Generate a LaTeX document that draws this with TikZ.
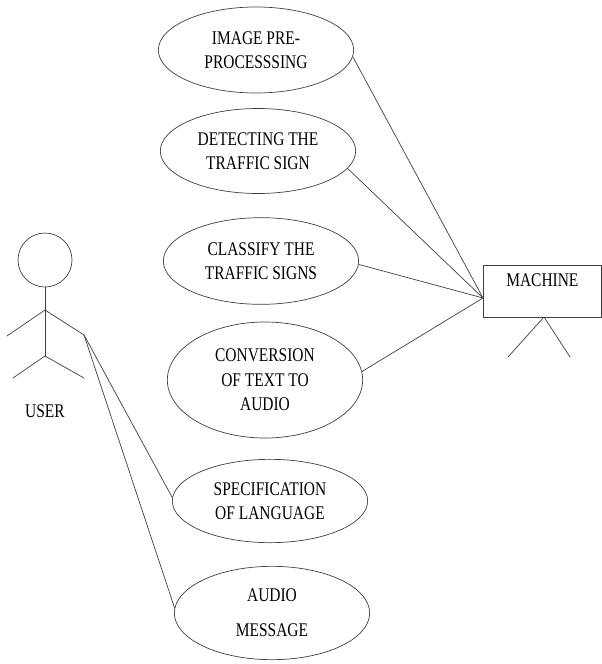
\documentclass[tikz,border=0pt]{standalone}
\usepackage{fontspec}
\setmainfont{Liberation Serif}[FakeStretch=0.8]
\usetikzlibrary{shapes.geometric}

\begin{document}
\begin{tikzpicture}[x=0.3mm,y=-0.3mm,font=\fontsize{16.5}{21}\selectfont]

%
% Styles
%
\tikzstyle{usecase} = [ellipse,draw=black!75,line width=0.6pt,align=center,inner sep=0pt,minimum width=58.6mm]
\tikzstyle{link}    = [draw=black!75,line width=0.6pt]
\tikzstyle{actor}   = [draw=black!75,line width=0.6pt,line cap=round]
\tikzstyle{machbox} = [rectangle,draw=black!75,line width=0.6pt,anchor=north west,
                       minimum width=35.4mm,text height=4mm,text depth=7mm,inner ysep=2.3mm]

\useasboundingbox (0,0) rectangle (602,664);

% use cases
\node[usecase,minimum height=25.8mm] (pre)   at (256, 50) {IMAGE PRE-\\PROCESSSING};
\node[usecase,minimum height=25.5mm] (det)   at (258,151) {DETECTING THE\\TRAFFIC SIGN};
\node[usecase,minimum height=26mm]   (cls)   at (261,261) {CLASSIFY THE\\TRAFFIC SIGNS};
\node[usecase,minimum height=34.8mm] (conv)  at (265,380) {CONVERSION\\OF TEXT TO\\AUDIO};
\node[usecase,minimum height=25mm]   (lang)  at (270,501) {SPECIFICATION\\OF LANGUAGE};
\node[usecase,minimum height=28mm]   (audio) at (272,613) {AUDIO\\[9pt]MESSAGE};

% machine
\node[machbox] (mach) at (483,265) {MACHINE};
\coordinate (mpt) at (483,298);
\coordinate (mleg) at (544,317);
\draw[actor] (mleg) -- (508,357);
\draw[actor] (mleg) -- (570,357);

% user
\node[circle,draw=black!75,line width=0.6pt,minimum size=16.2mm,inner sep=0pt] (head) at (45,260) {};
\coordinate (shoulder) at (45,310);
\coordinate (hip) at (45,356);
\coordinate (hand) at (84,335);
\draw[actor] (head.south) -- (hip);
\draw[actor] (shoulder) -- (7,336);
\draw[actor] (shoulder) -- (hand);
\draw[actor] (hip) -- (13,378);
\draw[actor] (hip) -- (84,378);
\node (user) at (45,411) {USER};

\draw[link] (pre.-4)  -- (mpt);
\draw[link] (det.-11) -- (mpt);
\draw[link] (cls.-2)  -- (mpt);
\draw[link] (conv.5)  -- (mpt);

\draw[link] (hand) -- (lang.178);
\draw[link] (hand) -- (audio.177);

\end{tikzpicture}
\end{document}
